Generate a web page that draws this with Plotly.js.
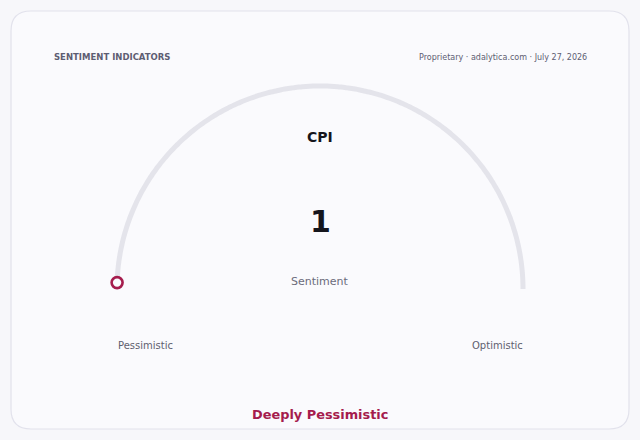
<!DOCTYPE html>
<html>
<head>
<meta charset="utf-8">
<script src="https://cdn.plot.ly/plotly-3.0.1.min.js"></script>
<style>
  html, body { margin: 0; padding: 0; background: #f7f7fa; }
  #chart { width: 640px; height: 440px; }
</style>
</head>
<body>
<div id="chart"></div>
<script>
// gauge data
var indicatorName = "CPI";
var indicatorValue = 1;
var scaleMin = 0;
var scaleMax = 100;
var scaleLabels = ["Pessimistic", "Optimistic"];
var valueCaption = "Sentiment";
var verdict = "Deeply Pessimistic";
var headerLeft = "SENTIMENT INDICATORS";
var headerRight = "Proprietary · adalytica.com · July 27, 2026";

// geometry (pixel space, y grows downward)
var cx = 320, cy = 289, r = 203;
var font = "DejaVu Sans, Verdana, sans-serif";
var accent = "#a51c4d";

function angleOf(v) {
  // scaleMin -> 180deg (left), scaleMax -> 0deg (right)
  return Math.PI * (1 - (v - scaleMin) / (scaleMax - scaleMin));
}

var trackX = [], trackY = [];
for (var i = 0; i <= 180; i++) {
  var a = angleOf(scaleMin + (scaleMax - scaleMin) * i / 180);
  trackX.push(cx + r * Math.cos(a));
  trackY.push(cy - r * Math.sin(a));
}

var track = {
  x: trackX, y: trackY,
  mode: "lines",
  line: { color: "#e4e4eb", width: 5, shape: "spline" },
  hoverinfo: "skip",
  type: "scatter"
};

var va = angleOf(indicatorValue);
var marker = {
  x: [cx + r * Math.cos(va)],
  y: [cy - r * Math.sin(va)],
  mode: "markers",
  marker: { size: 11, color: "#fafafd", line: { color: accent, width: 2.6 } },
  hoverinfo: "skip",
  type: "scatter"
};

function note(text, x, y, size, color, bold, anchor) {
  return {
    text: bold ? "<b>" + text + "</b>" : text,
    x: x, y: y, xref: "x", yref: "y",
    xanchor: anchor || "center", yanchor: "middle",
    showarrow: false,
    font: { family: font, size: size, color: color }
  };
}

var layout = {
  width: 640, height: 440,
  margin: { l: 0, r: 0, t: 0, b: 0 },
  paper_bgcolor: "#f7f7fa",
  plot_bgcolor: "rgba(0,0,0,0)",
  showlegend: false,
  xaxis: { range: [0, 640], visible: false, fixedrange: true },
  yaxis: { range: [440, 0], visible: false, fixedrange: true },
  shapes: [{
    type: "path", xref: "x", yref: "y", layer: "below",
    path: "M 31 11 L 609 11 Q 629 11 629 31 L 629 409 Q 629 429 609 429 " +
          "L 31 429 Q 11 429 11 409 L 11 31 Q 11 11 31 11 Z",
    fillcolor: "#fafafd",
    line: { color: "#e2e2ec", width: 1.2 }
  }],
  annotations: [
    note(headerLeft, 52, 57, 8.5, "#5d5d72", true, "left"),
    note(headerRight, 589, 57, 8, "#5d5d72", false, "right"),
    note(indicatorName, cx, 137, 14, "#15151c", true),
    note(String(indicatorValue), cx, 221, 30, "#15151c", true),
    note(valueCaption, cx, 281, 11, "#6b6b7b", false),
    note(scaleLabels[0], cx - r + 28, 345, 10, "#5f5f6f", false),
    note(scaleLabels[1], cx + r - 26, 345, 10, "#5f5f6f", false),
    note(verdict, cx, 414, 12.9, accent, true)
  ]
};

Plotly.newPlot("chart", [track, marker], layout, { displayModeBar: false, staticPlot: true });
</script>
</body>
</html>
